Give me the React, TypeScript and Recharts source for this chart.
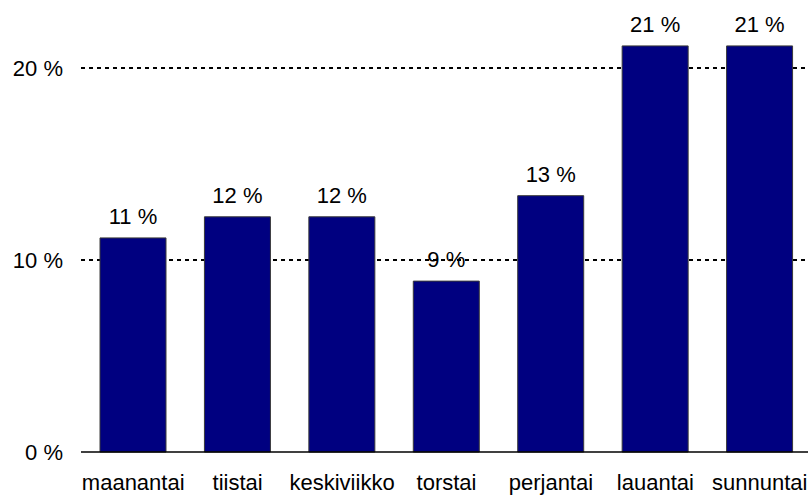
import React from "react";
import { BarChart, Bar, XAxis, YAxis, CartesianGrid, LabelList } from "recharts";

const days = ["maanantai", "tiistai", "keskiviikko", "torstai", "perjantai", "lauantai", "sunnuntai"];
const shares = [11.15, 12.25, 12.25, 8.9, 13.35, 21.15, 21.15];
const yTicks = [0, 10, 20];
const gridValues = [10, 20];

const data = days.map((d, i) => ({ day: d, share: shares[i] }));

const FONT = "'Liberation Sans', Arial, sans-serif";

export default function App() {
  return (
    <div style={{ position: "absolute", left: 0, top: 0, width: 808, height: 496, overflow: "hidden", background: "#fff" }}>
      <BarChart
        width={812}
        height={496}
        data={data}
        margin={{ top: 29.6, right: 0, left: 0, bottom: 0 }}
        barSize={66}
      >
        <CartesianGrid
          vertical={false}
          horizontalValues={gridValues}
          stroke="#000"
          strokeDasharray="4 4"
          strokeWidth={2}
        />
        <XAxis
          dataKey="day"
          height={44}
          axisLine={{ stroke: "#000", strokeWidth: 1.5 }}
          tickLine={false}
          tickMargin={16}
          interval={0}
          tick={{ fill: "#000", fontSize: 22, fontFamily: FONT }}
        />
        <YAxis
          width={81}
          domain={[0, 22]}
          ticks={yTicks}
          axisLine={false}
          tickLine={false}
          tickMargin={12}
          tickFormatter={(v: number) => `${v} %`}
          tick={{ fill: "#000", fontSize: 22, fontFamily: FONT }}
        />
        <Bar dataKey="share" fill="#000080" stroke="#3a3a3a" strokeWidth={1} isAnimationActive={false}>
          <LabelList
            dataKey="share"
            position="top"
            offset={14}
            formatter={(v: number) => `${Math.round(v)} %`}
            style={{ fill: "#000", fontSize: 22, fontFamily: FONT }}
          />
        </Bar>
      </BarChart>
    </div>
  );
}
